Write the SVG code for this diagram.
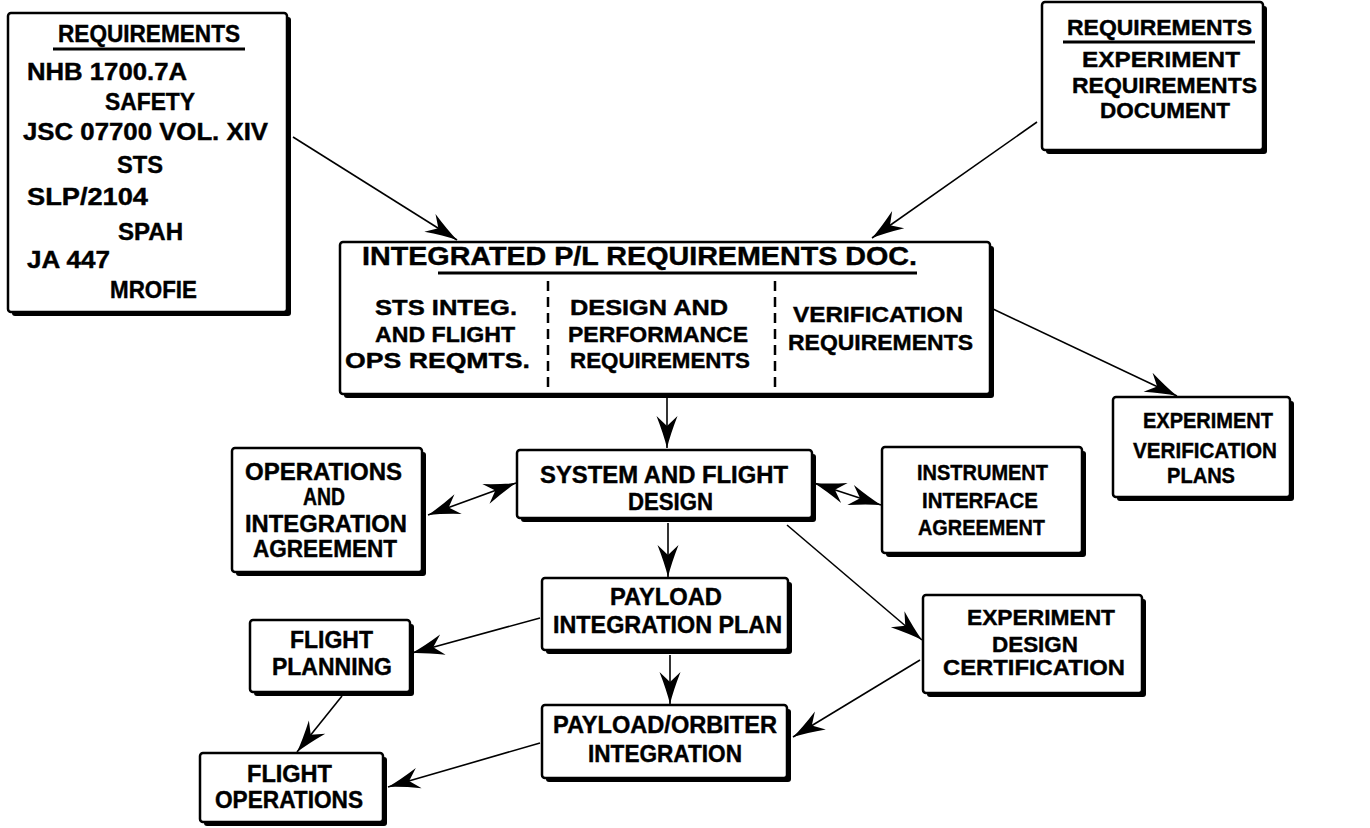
<svg xmlns="http://www.w3.org/2000/svg" width="1370" height="828" viewBox="0 0 1370 828">
<style>
.bx{fill:#fff;stroke:#000;stroke-width:2.5}
.sh{fill:#000}
text{font-family:"Liberation Sans",Arial,sans-serif;font-weight:bold;font-size:23px;fill:#000;stroke:#000;stroke-width:0.4}
.s20{font-size:22px}
.s23{font-size:25px}
.ln{stroke:#000;stroke-width:1.6;fill:none}
.ul{stroke:#000;stroke-width:2.8}
.dash{stroke:#000;stroke-width:2.5;stroke-dasharray:10 6}
</style>
<defs>
<marker id="ah" markerUnits="userSpaceOnUse" viewBox="-34 -12 36 24" refX="0" refY="0" markerWidth="36" markerHeight="24" orient="auto-start-reverse">
<path d="M0,0 Q-14,-3.5 -32,-10.5 L-22,0 L-32,10.5 Q-14,3.5 0,0 Z" fill="#000"/>
</marker>
</defs>
<g id="connectors">
<line class="ln" x1="293" y1="137" x2="457" y2="240" marker-end="url(#ah)"/>
<line class="ln" x1="1037" y1="122" x2="872" y2="238" marker-end="url(#ah)"/>
<line class="ln" x1="993" y1="309" x2="1177" y2="396" marker-end="url(#ah)"/>
<line class="ln" x1="667" y1="398" x2="667" y2="448" marker-end="url(#ah)"/>
<line class="ln" x1="428" y1="515" x2="516" y2="483" marker-start="url(#ah)" marker-end="url(#ah)"/>
<line class="ln" x1="814" y1="483" x2="881" y2="505" marker-start="url(#ah)" marker-end="url(#ah)"/>
<line class="ln" x1="668" y1="523" x2="668" y2="577" marker-end="url(#ah)"/>
<line class="ln" x1="787" y1="525" x2="922" y2="640" marker-end="url(#ah)"/>
<line class="ln" x1="540" y1="618" x2="412" y2="653" marker-end="url(#ah)"/>
<line class="ln" x1="670" y1="655" x2="670" y2="704" marker-end="url(#ah)"/>
<line class="ln" x1="920" y1="660" x2="793" y2="737" marker-end="url(#ah)"/>
<line class="ln" x1="342" y1="696" x2="297" y2="752" marker-end="url(#ah)"/>
<line class="ln" x1="540" y1="743" x2="388" y2="787" marker-end="url(#ah)"/>
</g>
<g id="req-left">
<rect class="sh" x="12" y="17" width="279" height="299" rx="3"/>
<rect class="bx" x="8" y="13" width="279" height="299" rx="3"/>
<text x="58" y="42" textLength="182" lengthAdjust="spacingAndGlyphs">REQUIREMENTS</text>
<line class="ul" x1="53" y1="49" x2="245" y2="49"/>
<text x="27" y="80" textLength="160" lengthAdjust="spacingAndGlyphs">NHB 1700.7A</text>
<text x="105" y="110" textLength="90" lengthAdjust="spacingAndGlyphs">SAFETY</text>
<text x="23" y="140" textLength="245" lengthAdjust="spacingAndGlyphs">JSC 07700 VOL. XIV</text>
<text x="117" y="173" textLength="46" lengthAdjust="spacingAndGlyphs">STS</text>
<text x="27" y="205" textLength="121" lengthAdjust="spacingAndGlyphs">SLP/2104</text>
<text x="118" y="240" textLength="65" lengthAdjust="spacingAndGlyphs">SPAH</text>
<text x="27" y="268" textLength="83" lengthAdjust="spacingAndGlyphs">JA 447</text>
<text x="110" y="298" textLength="87" lengthAdjust="spacingAndGlyphs">MROFIE</text>
</g>
<g id="req-right">
<rect class="sh" x="1046" y="6" width="221" height="148" rx="3"/>
<rect class="bx" x="1042" y="2" width="221" height="148" rx="3"/>
<text class="s20" x="1067" y="35" textLength="185" lengthAdjust="spacingAndGlyphs">REQUIREMENTS</text>
<line class="ul" x1="1063" y1="42" x2="1255" y2="42"/>
<text class="s20" x="1082" y="67" textLength="158" lengthAdjust="spacingAndGlyphs">EXPERIMENT</text>
<text class="s20" x="1072" y="93" textLength="185" lengthAdjust="spacingAndGlyphs">REQUIREMENTS</text>
<text class="s20" x="1100" y="118" textLength="130" lengthAdjust="spacingAndGlyphs">DOCUMENT</text>
</g>
<g id="integrated-pl-req">
<rect class="sh" x="344" y="246" width="650" height="152" rx="3"/>
<rect class="bx" x="340" y="242" width="650" height="152" rx="3"/>
<text class="s23" x="362" y="265" textLength="555" lengthAdjust="spacingAndGlyphs">INTEGRATED P/L REQUIREMENTS DOC.</text>
<line class="ul" x1="438" y1="273" x2="917" y2="273"/>
<line class="dash" x1="548" y1="281" x2="548" y2="393"/>
<line class="dash" x1="775" y1="281" x2="775" y2="393"/>
<text class="s20" x="375" y="315" textLength="142" lengthAdjust="spacingAndGlyphs">STS INTEG.</text>
<text class="s20" x="375" y="342" textLength="140" lengthAdjust="spacingAndGlyphs">AND FLIGHT</text>
<text class="s20" x="345" y="368" textLength="185" lengthAdjust="spacingAndGlyphs">OPS REQMTS.</text>
<text class="s20" x="570" y="315" textLength="158" lengthAdjust="spacingAndGlyphs">DESIGN AND</text>
<text class="s20" x="568" y="342" textLength="180" lengthAdjust="spacingAndGlyphs">PERFORMANCE</text>
<text class="s20" x="570" y="368" textLength="180" lengthAdjust="spacingAndGlyphs">REQUIREMENTS</text>
<text class="s20" x="793" y="322" textLength="170" lengthAdjust="spacingAndGlyphs">VERIFICATION</text>
<text class="s20" x="788" y="350" textLength="185" lengthAdjust="spacingAndGlyphs">REQUIREMENTS</text>
</g>
<g id="exp-verification-plans">
<rect class="sh" x="1117" y="401" width="177" height="100" rx="3"/>
<rect class="bx" x="1113" y="397" width="177" height="100" rx="3"/>
<text class="s20" x="1143" y="428" textLength="130" lengthAdjust="spacingAndGlyphs">EXPERIMENT</text>
<text class="s20" x="1133" y="458" textLength="144" lengthAdjust="spacingAndGlyphs">VERIFICATION</text>
<text class="s20" x="1167" y="483" textLength="68" lengthAdjust="spacingAndGlyphs">PLANS</text>
</g>
<g id="system-flight-design">
<rect class="sh" x="521" y="454" width="295" height="68" rx="3"/>
<rect class="bx" x="517" y="450" width="295" height="68" rx="3"/>
<text x="540" y="483" textLength="248" lengthAdjust="spacingAndGlyphs">SYSTEM AND FLIGHT</text>
<text x="628" y="510" textLength="85" lengthAdjust="spacingAndGlyphs">DESIGN</text>
</g>
<g id="ops-integration-agreement">
<rect class="sh" x="236" y="452" width="190" height="124" rx="3"/>
<rect class="bx" x="232" y="448" width="190" height="124" rx="3"/>
<text x="245" y="480" textLength="157" lengthAdjust="spacingAndGlyphs">OPERATIONS</text>
<text x="303" y="505" textLength="42" lengthAdjust="spacingAndGlyphs">AND</text>
<text x="245" y="532" textLength="162" lengthAdjust="spacingAndGlyphs">INTEGRATION</text>
<text x="253" y="557" textLength="144" lengthAdjust="spacingAndGlyphs">AGREEMENT</text>
</g>
<g id="instrument-interface-agreement">
<rect class="sh" x="886" y="451" width="200" height="106" rx="3"/>
<rect class="bx" x="882" y="447" width="200" height="106" rx="3"/>
<text class="s20" x="917" y="480" textLength="131" lengthAdjust="spacingAndGlyphs">INSTRUMENT</text>
<text class="s20" x="922" y="508" textLength="116" lengthAdjust="spacingAndGlyphs">INTERFACE</text>
<text class="s20" x="918" y="535" textLength="127" lengthAdjust="spacingAndGlyphs">AGREEMENT</text>
</g>
<g id="payload-integration-plan">
<rect class="sh" x="546" y="582" width="246" height="72" rx="3"/>
<rect class="bx" x="542" y="578" width="246" height="72" rx="3"/>
<text x="610" y="605" textLength="112" lengthAdjust="spacingAndGlyphs">PAYLOAD</text>
<text x="553" y="633" textLength="229" lengthAdjust="spacingAndGlyphs">INTEGRATION PLAN</text>
</g>
<g id="payload-orbiter-integration">
<rect class="sh" x="546" y="709" width="245" height="73" rx="3"/>
<rect class="bx" x="542" y="705" width="245" height="73" rx="3"/>
<text x="553" y="733" textLength="224" lengthAdjust="spacingAndGlyphs">PAYLOAD/ORBITER</text>
<text x="588" y="762" textLength="154" lengthAdjust="spacingAndGlyphs">INTEGRATION</text>
</g>
<g id="exp-design-certification">
<rect class="sh" x="927" y="599" width="219" height="98" rx="3"/>
<rect class="bx" x="923" y="595" width="219" height="98" rx="3"/>
<text class="s20" x="967" y="625" textLength="148" lengthAdjust="spacingAndGlyphs">EXPERIMENT</text>
<text class="s20" x="992" y="652" textLength="86" lengthAdjust="spacingAndGlyphs">DESIGN</text>
<text class="s20" x="943" y="675" textLength="182" lengthAdjust="spacingAndGlyphs">CERTIFICATION</text>
</g>
<g id="flight-planning">
<rect class="sh" x="254" y="624" width="160" height="72" rx="3"/>
<rect class="bx" x="250" y="620" width="160" height="72" rx="3"/>
<text x="290" y="648" textLength="83" lengthAdjust="spacingAndGlyphs">FLIGHT</text>
<text x="272" y="675" textLength="120" lengthAdjust="spacingAndGlyphs">PLANNING</text>
</g>
<g id="flight-operations">
<rect class="sh" x="204" y="757" width="183" height="69" rx="3"/>
<rect class="bx" x="200" y="753" width="183" height="69" rx="3"/>
<text x="247" y="782" textLength="85" lengthAdjust="spacingAndGlyphs">FLIGHT</text>
<text x="215" y="808" textLength="148" lengthAdjust="spacingAndGlyphs">OPERATIONS</text>
</g>
</svg>
